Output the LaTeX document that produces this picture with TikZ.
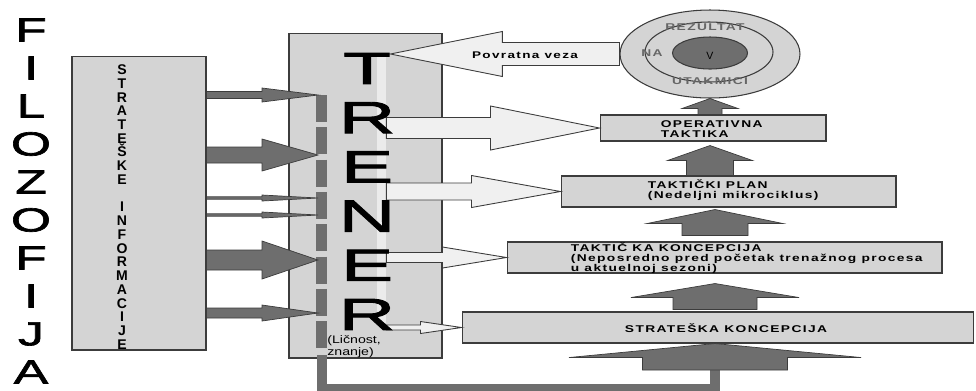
\documentclass[tikz,border=0pt]{standalone}
\usepackage{fontspec}
\setmainfont{Liberation Sans}
\newfontfamily\boxfont[FakeStretch=1.4,LetterSpace=14]{Liberation Sans}
\newfontfamily\notefont[FakeStretch=1.3]{Liberation Sans}
\newfontfamily\filfont[FakeStretch=1.55,FakeBold=2]{Liberation Sans}
\newfontfamily\trfont[FakeStretch=1.75,FakeBold=2]{Liberation Sans}
\usetikzlibrary{calc,shapes.geometric}
\definecolor{boxgray}{HTML}{D4D4D4}
\definecolor{arrdark}{HTML}{6E6E6E}
\definecolor{arrlight}{HTML}{F0F0F0}
\definecolor{edge}{HTML}{3C3C3C}
\definecolor{stripcol}{HTML}{EBEBEB}
% block arrows: style, tail, tip, shaft half, head half, head length
\newcommand{\harrow}[6]{\draw[#1] ($(#2)+(0,-#4)$) -- ($(#3)+({-(#6)},-#4)$) -- ($(#3)+({-(#6)},-#5)$) -- (#3)
  -- ($(#3)+({-(#6)},#5)$) -- ($(#3)+({-(#6)},#4)$) -- ($(#2)+(0,#4)$) -- cycle;}
\newcommand{\varrow}[6]{\draw[#1] ($(#2)+(-#4,0)$) -- ($(#3)+(-#4,#6)$) -- ($(#3)+(-#5,#6)$) -- (#3)
  -- ($(#3)+(#5,#6)$) -- ($(#3)+(#4,#6)$) -- ($(#2)+(#4,0)$) -- cycle;}

\begin{document}
\begin{tikzpicture}[x=0.02cm,y=-0.02cm,
    box/.style={draw=edge,fill=boxgray,line width=0.6pt,inner sep=0pt},
    boxtext/.style={font=\boxfont\bfseries\fontsize{5.6}{5.7}\selectfont,align=left,inner sep=0pt},
    darkarr/.style={draw=edge,fill=arrdark,line width=0.4pt},
    lightarr/.style={draw=edge,fill=arrlight,line width=0.5pt},
    ring/.style={ellipse,draw=edge,line width=0.6pt,inner sep=0pt},
    ringtext/.style={font=\boxfont\bfseries\fontsize{5.6}{6}\selectfont,text=black!60,inner sep=0pt}]
  \useasboundingbox (0,0) rectangle (976,390);

  % FILOZOFIJA
  \foreach \l [count=\i] in {F,I,L,O,Z,O,F,I,J,A}
    \node[font=\filfont\fontsize{19}{20}\selectfont,inner sep=0pt] (fil\i) at (31,{30+38*(\i-1)}) {\l};

  % boxes
  \node[box,minimum width=2.68cm,minimum height=5.88cm] (sinfo) at (139,203) {};
  \node[box,minimum width=3.06cm,minimum height=6.5cm] (trener) at (365.5,195.5) {};
  \node[box,minimum width=4.52cm,minimum height=0.52cm] (optakt) at (713,128) {};
  \node[box,minimum width=6.7cm,minimum height=0.62cm] (tplan) at (728.5,191.5) {};
  \node[box,minimum width=8.7cm,minimum height=0.62cm] (tkonc) at (724.5,257.5) {};
  \node[box,minimum width=10.24cm,minimum height=0.62cm] (skonc) at (718,327.5) {};

  \node[font=\bfseries\fontsize{8}{7.82}\selectfont,align=center,inner sep=0pt] (sinfo-t) at (122,207)
    {S\\T\\R\\A\\T\\E\\Š\\K\\E\\[7.82pt]I\\N\\F\\O\\R\\M\\A\\C\\I\\J\\E};

  % result
  \node[ring,fill=boxgray,minimum width=3.6cm,minimum height=1.76cm] (res) at (710,54) {};
  \node[ring,minimum width=2.56cm,minimum height=1.2cm] (resmid) at (709,52) {};
  \node[ring,fill=arrdark,minimum width=1.5cm,minimum height=0.64cm] (resin) at (710,53) {};
  \node[ringtext] (rez) at (705,27) {REZULTAT};
  \node[ringtext] (na) at (652,53) {NA};
  \node[font=\fontsize{6}{7}\selectfont,inner sep=0pt] (vv) at (710,56) {V};
  \node[ringtext] (utak) at (710,81) {UTAKMICI};

  % strip and dashed line in trainer box
  \node[fill=stripcol,minimum width=0.18cm,minimum height=5.32cm,inner sep=0pt] (strip) at (381.5,190) {};
  \coordinate (dtop) at (321.5,95);
  \coordinate (dbot) at (321.5,352);
  \draw[arrdark,line width=6.2pt,dash pattern=on 15.3pt off 3.1pt] (dtop) -- (dbot);

  % strategic info arrows
  \foreach \i/\yy/\sw/\hw in {1/95/3.5/7,2/155/8/16,3/198/1.2/3,4/215/1.2/3,5/260/10/19,6/313/5/8}{
    \coordinate (lt\i) at (318,\yy);
    \harrow{darkarr}{sinfo.east |- lt\i}{lt\i}{\sw}{\hw}{56}
  }

  % up arrows
  \coordinate (ax1) at (710,0);
  \coordinate (ax2) at (715,0);
  \coordinate (u2) at ($(ax1 |- optakt.south)+(0,4)$);
  \coordinate (u3) at ($(ax2 |- tplan.south)+(0,2)$);
  \coordinate (b3) at ($(ax2 |- tkonc.north)+(0,-6)$);
  \coordinate (u4) at ($(ax2 |- tkonc.south)+(0,10)$);
  \coordinate (b4) at ($(ax2 |- skonc.north)+(0,-2)$);
  \coordinate (u5) at (ax2 |- skonc.south);
  \coordinate (b5) at (715,370);
  \coordinate (fstart) at (322,355);
  \coordinate (fcorner) at (715,389);
  \draw[arrdark,line width=5.7pt] (fstart) |- (fcorner) -- (b5);
  \varrow{darkarr}{ax1 |- optakt.north}{res.south}{12}{28}{10}
  \varrow{darkarr}{ax1 |- tplan.north}{u2}{23.5}{42.5}{15}
  \varrow{darkarr}{b3}{u3}{33}{68}{14}
  \varrow{darkarr}{b4}{u4}{42}{84}{14}
  \varrow{darkarr}{b5}{u5}{72.5}{146}{14}

  % trainer arrows
  \coordinate (fbtip) at ($(strip.east |- res.west)+(4,0)$);
  \harrow{lightarr}{res.west}{fbtip}{11.5}{22.5}{-112}
  \node[boxtext,font=\boxfont\bfseries\fontsize{5.5}{6}\selectfont] (fbtext) at (525,55) {Povratna veza};
  \harrow{lightarr}{strip.east |- optakt.west}{optakt.west}{10.5}{22}{109}
  \harrow{lightarr}{strip.east |- tplan.west}{tplan.west}{8.5}{16}{89}
  \harrow{lightarr}{strip.east |- tkonc.west}{tkonc.west}{5}{10.5}{64}
  \harrow{lightarr}{strip.east |- skonc.west}{skonc.west}{2.5}{6}{41}

  % TRENER
  \foreach \l [count=\i] in {T,R,E,N,E,R}
    \node[font=\trfont\fontsize{25.6}{26}\selectfont,inner sep=0pt] (tr\i) at (367,{68.5+49.2*(\i-1)}) {\l};
  \node[font=\notefont\fontsize{6.2}{5.7}\selectfont,align=left,inner sep=0pt,anchor=north west] (note) at (327,335)
    {(Ličnost,\\znanje)};

  % box texts
  \node[boxtext,anchor=west] (optakt-t) at ($(optakt.west)+(61,1)$) {OPERATIVNA\\TAKTIKA};
  \node[boxtext,anchor=west] (tplan-t) at ($(tplan.west)+(87,-1.5)$) {TAKTIČKI PLAN\\(Nedeljni mikrociklus)};
  \node[boxtext,anchor=west] (tkonc-t) at ($(tkonc.west)+(64,0.8)$)
    {TAKTIČ KA KONCEPCIJA\\(Neposredno pred početak trenažnog procesa\\u aktuelnoj sezoni)};
  \node[boxtext] (skonc-t) at ($(skonc.center)+(8,0.5)$) {STRATEŠKA KONCEPCIJA};
\end{tikzpicture}
\end{document}
